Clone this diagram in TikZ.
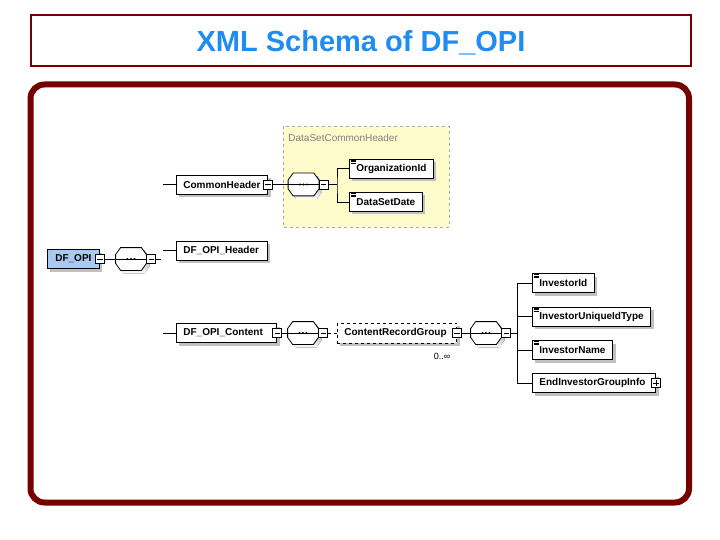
\documentclass[tikz,border=0pt]{standalone}
\usepackage{fontspec}
\setmainfont{Liberation Sans}
\usepackage{tikz}
\usetikzlibrary{calc,positioning,shadows}
\definecolor{framered}{HTML}{760000}
\definecolor{titleblue}{HTML}{1E8CF0}
\definecolor{grpyellow}{HTML}{FFFCCC}
\definecolor{rootblue}{HTML}{A9C9F0}
\definecolor{shade}{HTML}{C0C0C0}
\newcommand{\elemfont}{\fontsize{10}{12}\selectfont\bfseries}
\newcommand{\octpath}[1]{([xshift=5pt]#1.north west) -- ([xshift=-5pt]#1.north east) -- ([yshift=-7pt]#1.north east)
  -- ([yshift=7pt]#1.south east) -- ([xshift=-5pt]#1.south east) -- ([xshift=5pt]#1.south west)
  -- ([yshift=7pt]#1.south west) -- ([yshift=-7pt]#1.north west) -- cycle}

\begin{document}
\begin{tikzpicture}[x=1pt, y=-1pt, line width=0.8pt,
  elem/.style={draw, fill=white, font=\elemfont, minimum height=19pt, inner xsep=7pt, inner ysep=0pt,
    anchor=west, drop shadow={shadow xshift=3pt, shadow yshift=-3pt, fill=shade, opacity=1}},
  simple/.style={elem, path picture={
    \foreach \k in {1.2,2.7,4.2}
      \draw[line width=0.45pt] ([xshift=1.2pt, yshift=-\k pt]path picture bounding box.north west) -- ++(5pt,0pt);}},
  minus/.style={draw, fill=white, minimum size=9pt, inner sep=0pt, line width=0.6pt, path picture={
    \draw ([xshift=1.8pt]path picture bounding box.west) -- ([xshift=-1.8pt]path picture bounding box.east);}},
  plus/.style={draw, fill=white, minimum size=9pt, inner sep=0pt, line width=0.6pt, path picture={
    \draw ([xshift=1.8pt]path picture bounding box.west) -- ([xshift=-1.8pt]path picture bounding box.east);
    \draw ([yshift=-1.8pt]path picture bounding box.north) -- ([yshift=1.8pt]path picture bounding box.south);}},
  seq/.style={minimum width=30pt, minimum height=22pt, inner sep=0pt}]
  \useasboundingbox (0,0) rectangle (720,540);
  % title
  \draw[framered, line width=1.5pt] (31,15) rectangle (691,66);
  \node[titleblue, font=\fontsize{29}{32}\selectfont\bfseries, anchor=base] (title) at (361,52) {XML Schema of DF\_OPI};
  \draw[framered, line width=6pt, rounded corners=14pt] (30.5,84.5) rectangle (689,502.5);
  % common header type
  \draw[gray!70, dashed, fill=grpyellow] (283,126) rectangle (449,227);
  \node[anchor=west, gray, font=\fontsize{10}{12}\selectfont, inner sep=0pt] (grplabel) at (288,138) {DataSetCommonHeader};
  % sequence compositors
  \node[seq] (seq0) at (131,259) {};
  \node[seq] (seq1) at (303.5,184.5) {};
  \node[seq] (seq2) at (303,333) {};
  \node[seq] (seq3) at (486,333) {};
  \foreach \s in {seq0,seq1,seq2,seq3} {
    \fill[shade, transform canvas={shift={(3pt,-3pt)}}] \octpath{\s};
    \draw[fill=white] \octpath{\s};
    \draw (\s.west) -- (\s.east);
    \foreach \dx in {-3.5,0,3.5} \fill ([xshift=\dx pt]\s.center) circle (1.1pt);
    \node[minus, anchor=west] (\s-m) at (\s.east) {};
  }
  % root element
  \node[elem, fill=rootblue, minimum width=52pt] (root) at (47,259) {DF\_OPI};
  \node[minus] (rootm) at (root.east) {};
  \coordinate (bus0) at (161,259);
  \draw (rootm) -- (seq0) (seq0-m) -- (bus0);
  \foreach \nm/\txt/\y/\w in {ch/CommonHeader/184.5/0, hdr/DF\_OPI\_Header/250.5/1, cnt/DF\_OPI\_Content/333/7} {
    \coordinate (\nm-in) at (163,\y);
    \node[elem] (\nm) at (176,\y) {\txt\hspace*{\w pt}};
    \draw (\nm-in) -- (\nm);
  }
  % CommonHeader
  \node[minus] (chm) at (ch.east) {};
  \coordinate (br1) at (337,184.5);
  \node[simple] (org) at (349,168.5) {OrganizationId};
  \node[simple] (date) at (349,202) {DataSetDate};
  \draw (chm) -- (seq1) (seq1-m) -- (br1);
  \draw (org.west) -| (br1) |- (date.west);
  % DF_OPI_Content
  \node[minus] (cntm) at (cnt.east) {};
  \node[elem, dashed, minimum height=20pt] (rec) at (337,333) {ContentRecordGroup\hspace*{3pt}};
  \node[minus] (recm) at (rec.east) {};
  \node[font=\fontsize{9}{11}\selectfont, inner sep=0pt] (occ) at (442,356) {0..∞};
  \draw (cntm) -- (seq2);
  \draw[dashed] (seq2-m) -- (rec);
  \coordinate (br3) at (517,333);
  \draw (recm) -- (seq3) (seq3-m) -- (br3);
  \foreach \nm/\txt/\y in {inv1/InvestorId/283, inv2/InvestorUniqueIdType/316.5, inv3/InvestorName/350}
    \node[simple] (\nm) at (532,\y) {\txt};
  \node[elem] (inv4) at (532,383) {EndInvestorGroupInfo\hspace*{3pt}};
  \node[plus] (inv4p) at (inv4.east) {};
  \draw (br3 |- inv1.west) -- (br3 |- inv4.west);
  \foreach \nm in {inv1,inv2,inv3,inv4}
    \draw (br3 |- \nm.west) -- (\nm.west);
\end{tikzpicture}
\end{document}
